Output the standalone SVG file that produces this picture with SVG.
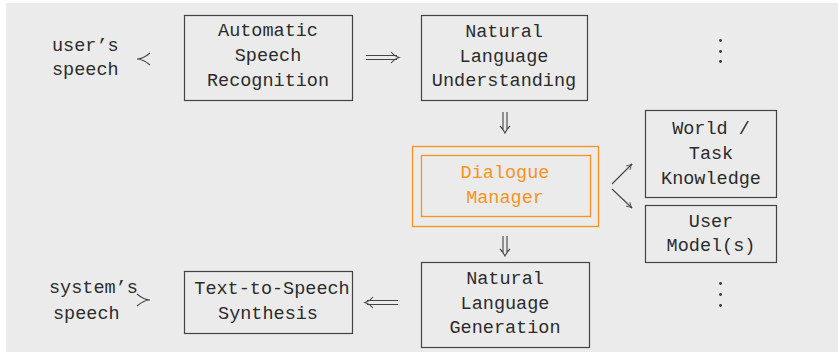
<svg xmlns="http://www.w3.org/2000/svg" width="838" height="352" viewBox="0 0 838 352">
<style>
text{font-family:"Liberation Mono","DejaVu Sans Mono",monospace;font-size:18.5px;fill:#2b2b2b;text-anchor:middle}
.box{fill:none;stroke:#444;stroke-width:1.2}
.dm{fill:none;stroke:#f7941d;stroke-width:1.3}
.dmt{fill:#f7941d}
.ln{fill:none;stroke:#444;stroke-width:1.1}
.dot{fill:#333}
.lt{text-anchor:start}
</style>
<defs>
<marker id="ah" viewBox="0 0 10 10" refX="9" refY="5" markerWidth="7" markerHeight="7" orient="auto" markerUnits="userSpaceOnUse">
<path d="M1,1 Q5,4 9,5 Q5,6 1,9" fill="none" stroke="#444" stroke-width="1.2"/>
</marker>
</defs>
<rect x="6" y="3" width="832" height="349" fill="#ebebeb"/>
<g id="user-speech">
<text class="lt" x="52" y="51">user’s</text>
<text class="lt" x="52" y="75">speech</text>
</g>
<g id="asr">
<rect class="box" x="184.5" y="15.5" width="168" height="85"/>
<text x="268" y="36">Automatic</text>
<text x="268" y="61">Speech</text>
<text x="268" y="86">Recognition</text>
</g>
<g id="nlu">
<rect class="box" x="421.5" y="15.5" width="166" height="85"/>
<text x="504" y="37">Natural</text>
<text x="504" y="62">Language</text>
<text x="504" y="86">Understanding</text>
</g>
<g id="dm">
<rect class="dm" x="412.5" y="146.5" width="186" height="80"/>
<rect class="dm" x="421.5" y="155.5" width="169" height="61"/>
<text class="dmt" x="505" y="178">Dialogue</text>
<text class="dmt" x="505" y="203">Manager</text>
</g>
<g id="world">
<rect class="box" x="645.5" y="110.5" width="131" height="87"/>
<text x="711" y="134">World /</text>
<text x="711" y="159">Task</text>
<text x="711" y="184">Knowledge</text>
</g>
<g id="user-model">
<rect class="box" x="645.5" y="205.5" width="131" height="57"/>
<text x="711" y="227">User</text>
<text x="711" y="251">Model(s)</text>
</g>
<g id="nlg">
<rect class="box" x="421.5" y="262.5" width="168" height="85"/>
<text x="505" y="284">Natural</text>
<text x="505" y="309">Language</text>
<text x="505" y="333">Generation</text>
</g>
<g id="tts">
<rect class="box" x="184.5" y="271.5" width="168" height="62"/>
<text x="272" y="294">Text-to-Speech</text>
<text x="268" y="319">Synthesis</text>
</g>
<g id="system-speech">
<text class="lt" x="49" y="293">system’s</text>
<text class="lt" x="53" y="319">speech</text>
</g>
<g id="dots">
<circle class="dot" cx="720.5" cy="40.5" r="1.4"/>
<circle class="dot" cx="720.5" cy="51.5" r="1.4"/>
<circle class="dot" cx="720.5" cy="61.5" r="1.4"/>
<circle class="dot" cx="720.5" cy="283.5" r="1.4"/>
<circle class="dot" cx="720.5" cy="294.5" r="1.4"/>
<circle class="dot" cx="720.5" cy="305.5" r="1.4"/>
</g>
<g id="connectors">
<path class="ln" d="M150,53 Q143,59 137,59 Q143,59 150,65"/>
<path class="ln" d="M137,294 Q144,300 150,300 Q144,300 137,306"/>
<path class="ln" d="M366,55.5 H397 M366,59.5 H397 M391,52 Q394,56 399,57.5 Q394,59 391,63"/>
<path class="ln" d="M398,300.5 H367 M398,304.5 H367 M373,297 Q370,301 365,302.5 Q370,304 373,308"/>
<path class="ln" d="M503,112 V130 M507,112 V130 M500,126 Q503,129 505,133 Q507,129 510,126"/>
<path class="ln" d="M503,236 V253 M507,236 V253 M500,249 Q503,252 505,256 Q507,252 510,249"/>
<path class="ln" d="M612,184 L632,164" marker-end="url(#ah)"/>
<path class="ln" d="M612,189 L632,208" marker-end="url(#ah)"/>
</g>
</svg>
